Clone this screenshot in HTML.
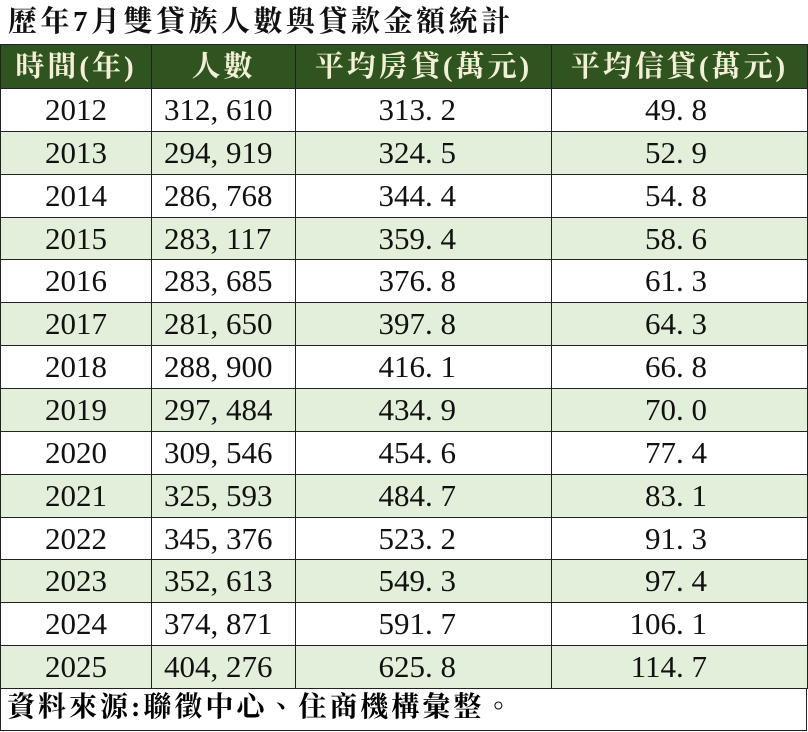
<!DOCTYPE html>
<html><head><meta charset="utf-8"><style>
body{margin:0;width:808px;height:732px;background:#fff;overflow:hidden;font-family:"Liberation Serif","Noto Serif CJK TC","Noto Serif CJK SC",serif;}
.t{position:absolute;left:8px;top:0;height:44px;line-height:44px;font-size:29px;font-weight:bold;color:#111;letter-spacing:3.5px}
table{position:absolute;left:0;top:44px;border-collapse:collapse;width:807px;table-layout:fixed}
td{border:1.5px solid #222;height:42.86px;padding:0;font-size:31px;color:#111;white-space:pre;line-height:40px;box-sizing:border-box}
tr.h td{background:#2f5420;color:#f4f0d8;font-size:29px;text-align:center;height:44px;font-weight:bold;letter-spacing:3px}
tr.g td{background:#e2efda}
td.c1{text-align:center}
td.c2{text-align:left;padding-left:12px}
td.c3{text-align:right;padding-right:95px}
td.c4{text-align:right;padding-right:100px}
.f{position:absolute;left:0;top:688px;width:807px;height:43px;border:1.5px solid #222;border-top:none;font-size:28px;font-weight:bold;line-height:40px;padding-left:6px;box-sizing:border-box;letter-spacing:3px}
</style></head><body>
<div class="t">歷年7月雙貸族人數與貸款金額統計</div>
<table>
<colgroup><col style="width:151px"><col style="width:144px"><col style="width:256px"><col style="width:256px"></colgroup>
<tr class="h"><td>時間(年)</td><td>人數</td><td>平均房貸(萬元)</td><td>平均信貸(萬元)</td></tr>
<tr><td class="c1">2012</td><td class="c2">312, 610</td><td class="c3">313. 2</td><td class="c4">49. 8</td></tr>
<tr class="g"><td class="c1">2013</td><td class="c2">294, 919</td><td class="c3">324. 5</td><td class="c4">52. 9</td></tr>
<tr><td class="c1">2014</td><td class="c2">286, 768</td><td class="c3">344. 4</td><td class="c4">54. 8</td></tr>
<tr class="g"><td class="c1">2015</td><td class="c2">283, 117</td><td class="c3">359. 4</td><td class="c4">58. 6</td></tr>
<tr><td class="c1">2016</td><td class="c2">283, 685</td><td class="c3">376. 8</td><td class="c4">61. 3</td></tr>
<tr class="g"><td class="c1">2017</td><td class="c2">281, 650</td><td class="c3">397. 8</td><td class="c4">64. 3</td></tr>
<tr><td class="c1">2018</td><td class="c2">288, 900</td><td class="c3">416. 1</td><td class="c4">66. 8</td></tr>
<tr class="g"><td class="c1">2019</td><td class="c2">297, 484</td><td class="c3">434. 9</td><td class="c4">70. 0</td></tr>
<tr><td class="c1">2020</td><td class="c2">309, 546</td><td class="c3">454. 6</td><td class="c4">77. 4</td></tr>
<tr class="g"><td class="c1">2021</td><td class="c2">325, 593</td><td class="c3">484. 7</td><td class="c4">83. 1</td></tr>
<tr><td class="c1">2022</td><td class="c2">345, 376</td><td class="c3">523. 2</td><td class="c4">91. 3</td></tr>
<tr class="g"><td class="c1">2023</td><td class="c2">352, 613</td><td class="c3">549. 3</td><td class="c4">97. 4</td></tr>
<tr><td class="c1">2024</td><td class="c2">374, 871</td><td class="c3">591. 7</td><td class="c4">106. 1</td></tr>
<tr class="g"><td class="c1">2025</td><td class="c2">404, 276</td><td class="c3">625. 8</td><td class="c4">114. 7</td></tr>
</table>
<div class="f">資料來源:聯徵中心、住商機構彙整。</div>
</body></html>
